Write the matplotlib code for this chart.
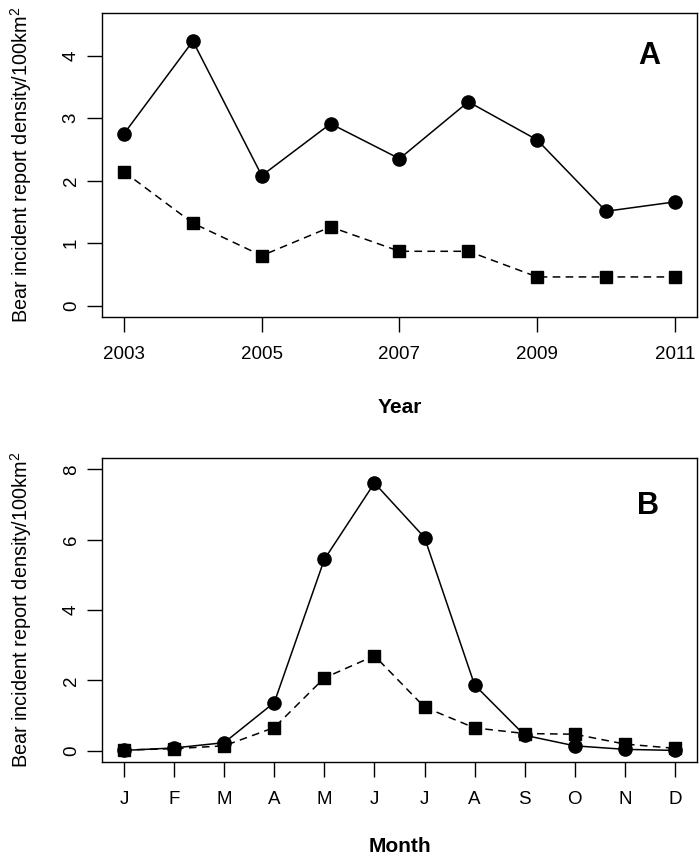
import matplotlib
matplotlib.use("Agg")
import matplotlib.pyplot as plt

plt.rcParams['font.family'] = ['Liberation Sans', 'DejaVu Sans']
plt.rcParams['mathtext.default'] = 'regular'

# panel A: yearly densities
years = [2003, 2004, 2005, 2006, 2007, 2008, 2009, 2010, 2011]
year_circ = [2.75, 4.23, 2.08, 2.91, 2.35, 3.26, 2.65, 1.51, 1.66]
year_sq = [2.14, 1.32, 0.80, 1.26, 0.87, 0.87, 0.46, 0.46, 0.46]
year_ticks = [2003, 2005, 2007, 2009, 2011]

# panel B: monthly densities
months = list(range(1, 13))
month_labels = ["J", "F", "M", "A", "M", "J", "J", "A", "S", "O", "N", "D"]
month_circ = [0.01, 0.08, 0.23, 1.37, 5.44, 7.61, 6.06, 1.87, 0.44, 0.14, 0.04, 0.01]
month_sq = [0.02, 0.06, 0.14, 0.66, 2.07, 2.70, 1.24, 0.65, 0.49, 0.47, 0.19, 0.07]

YLAB = "Bear incident report density/100km$^2$"

fig = plt.figure(figsize=(7.0, 8.59), dpi=100, facecolor="white")
axA = fig.add_axes([0.1457, 0.6310, 0.85, 0.3539])
axB = fig.add_axes([0.1457, 0.1129, 0.85, 0.3539])


def style(ax):
    for sp in ax.spines.values():
        sp.set_linewidth(1.0)
    ax.tick_params(direction="out", length=11, width=1.0, labelsize=13.5)
    ax.tick_params(axis="x", pad=10)
    ax.tick_params(axis="y", pad=5)
    for t in ax.get_yticklabels():
        t.set_rotation(90)
        t.set_va("center")
    ax.yaxis.set_label_coords(-0.136, 0.5)
    ax.yaxis.label.set_va("center")


def draw(ax, x, yc, ys):
    ax.plot(x, yc, "-", color="black", lw=1.1, marker="o", ms=9.5)
    ax.plot(x, ys, "--", color="black", lw=1.1, marker="s", ms=8.5,
            dashes=(5, 3.5))


draw(axA, years, year_circ, year_sq)
axA.set_xlim(2003 - 0.32, 2011 + 0.32)
axA.set_ylim(-0.18, 4.68)
axA.set_xticks(year_ticks)
axA.set_yticks([0, 1, 2, 3, 4])
axA.set_xlabel("Year", fontsize=15, fontweight="bold", labelpad=25)
axA.set_ylabel(YLAB, fontsize=14.3)
style(axA)
axA.text(2010.63, 4.0, "A", fontsize=22, fontweight="bold", ha="center", va="center")

draw(axB, months, month_circ, month_sq)
axB.set_xlim(1 - 0.44, 12 + 0.44)
axB.set_ylim(-0.32, 8.32)
axB.set_xticks(months)
axB.set_xticklabels(month_labels)
axB.set_yticks([0, 2, 4, 6, 8])
axB.set_xlabel("Month", fontsize=15, fontweight="bold", labelpad=21)
axB.set_ylabel(YLAB, fontsize=14.3)
style(axB)
axB.text(11.47, 6.95, "B", fontsize=22, fontweight="bold", ha="center", va="center")

fig.savefig("out.png", dpi=100, facecolor="white")
